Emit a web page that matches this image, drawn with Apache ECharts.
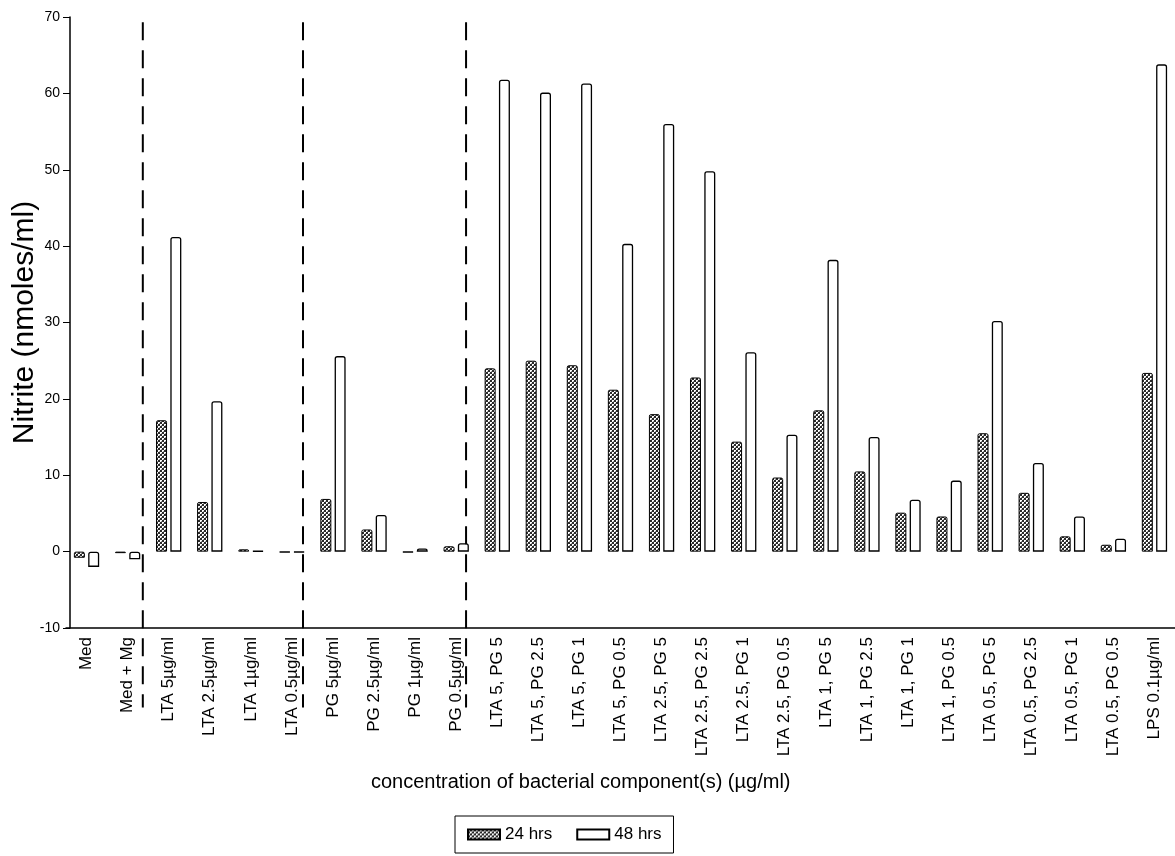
<!DOCTYPE html>
<html>
<head>
<meta charset="utf-8">
<script src="https://cdn.jsdelivr.net/npm/echarts@6/dist/echarts.min.js"></script>
<style>
  html, body { margin: 0; padding: 0; background: #fff; }
  #chart { width: 1175px; height: 856px; }
</style>
</head>
<body>
<div id="chart"></div>
<script>
// Treatments along the x axis
const categories = [
  'Med', 'Med + Mg',
  'LTA 5µg/ml', 'LTA 2.5µg/ml', 'LTA 1µg/ml', 'LTA 0.5µg/ml',
  'PG 5µg/ml', 'PG 2.5µg/ml', 'PG 1µg/ml', 'PG 0.5µg/ml',
  'LTA 5, PG 5', 'LTA 5, PG 2.5', 'LTA 5, PG 1', 'LTA 5, PG 0.5',
  'LTA 2.5, PG 5', 'LTA 2.5, PG 2.5', 'LTA 2.5, PG 1', 'LTA 2.5, PG 0.5',
  'LTA 1, PG 5', 'LTA 1, PG 2.5', 'LTA 1, PG 1', 'LTA 1, PG 0.5',
  'LTA 0.5, PG 5', 'LTA 0.5, PG 2.5', 'LTA 0.5, PG 1', 'LTA 0.5, PG 0.5',
  'LPS 0.1µg/ml'
];

// Nitrite (nmoles/ml) after 24 h and 48 h
const nitrite24 = [-0.8, -0.2, 17.2, 6.5, 0.3, -0.1, 6.9, 2.9, -0.1, 0.7,
  24.0, 25.0, 24.4, 21.2, 18.0, 22.8, 14.4, 9.7, 18.5, 10.5, 5.1, 4.6,
  15.5, 7.7, 2.0, 0.9, 23.4];
const nitrite48 = [-2.0, -1.0, 41.2, 19.7, 0.1, -0.1, 25.6, 4.8, 0.4, 1.1,
  61.8, 60.1, 61.3, 40.3, 56.0, 49.8, 26.1, 15.3, 38.2, 15.0, 6.8, 9.3,
  30.2, 11.6, 4.6, 1.7, 63.8];

// Group separators (fractional category positions)
const dividers = [1.37, 5.27, 9.24];

// Y axis range and step
const yMin = -10, yMax = 70, yStep = 10;

const FONT = '"Liberation Sans", Arial, Helvetica, sans-serif';

// stippled fill for the 24 h bars
function stipple() {
  const c = document.createElement('canvas');
  c.width = 4; c.height = 4;
  const g = c.getContext('2d');
  g.fillStyle = '#2a2a2a';
  g.fillRect(0, 0, 4, 4);
  g.fillStyle = '#ffffff';
  g.fillRect(0, 0, 2, 2);
  g.fillRect(2, 2, 2, 2);
  g.fillStyle = '#9a9a9a';
  g.fillRect(1, 1, 1, 1);
  g.fillRect(3, 3, 1, 1);
  return c;
}

const chart = echarts.init(document.getElementById('chart'), null, { renderer: 'canvas' });

const gridLeft = 66, gridTop = 17, gridHeight = 611, gridWidth = 1109;
const pxPerUnit = gridHeight / (yMax - yMin);
const overlayHeight = 695;
const overlayMin = yMax - overlayHeight / pxPerUnit;

const dividerSeries = dividers.map(x => ({
  type: 'line',
  xAxisIndex: 1,
  yAxisIndex: 1,
  data: [[x, 69.3], [x, -20.4]],
  symbol: 'none',
  silent: true,
  z: 5,
  lineStyle: { color: '#000', width: 2, type: [18, 10] }
}));

const option = {
  animation: false,
  backgroundColor: '#fff',
  title: {
    text: 'concentration of bacterial component(s) (µg/ml)',
    left: 366,
    top: 767,
    textStyle: { fontFamily: FONT, fontSize: 20, fontWeight: 'normal', color: '#000' }
  },
  legend: {
    data: ['24 hrs', '48 hrs'],
    left: 455,
    top: 816,
    orient: 'horizontal',
    padding: [10, 12, 10, 12],
    itemWidth: 32,
    itemHeight: 10,
    itemGap: 24,
    borderColor: '#000',
    borderWidth: 1,
    icon: 'rect',
    textStyle: { fontFamily: FONT, fontSize: 17, color: '#000' }
  },
  grid: [
    { left: gridLeft, top: gridTop, width: gridWidth, height: gridHeight,
      containLabel: false, outerBoundsMode: 'none' },
    { left: gridLeft, top: gridTop, width: gridWidth, height: overlayHeight,
      containLabel: false, outerBoundsMode: 'none' }
  ],
  xAxis: [
    {
      type: 'category',
      gridIndex: 0,
      data: categories,
      axisLine: { onZero: false, lineStyle: { color: '#000', width: 1.5 } },
      axisTick: { show: false },
      axisLabel: {
        interval: 0,
        rotate: 90,
        margin: 9,
        color: '#000',
        fontFamily: FONT,
        fontSize: 17
      },
      splitLine: { show: false }
    },
    {
      type: 'value',
      gridIndex: 1,
      min: -0.5,
      max: categories.length - 0.5,
      show: false
    }
  ],
  yAxis: [
    {
      type: 'value',
      gridIndex: 0,
      min: yMin,
      max: yMax,
      interval: yStep,
      offset: -4,
      name: 'Nitrite (nmoles/ml)',
      nameLocation: 'middle',
      nameGap: 30,
      nameMoveOverlap: false,
      nameTextStyle: { fontFamily: FONT, fontSize: 30, color: '#000' },
      axisLine: { show: true, lineStyle: { color: '#000', width: 1.5 } },
      axisTick: { show: true, length: 7, lineStyle: { color: '#000', width: 1 } },
      axisLabel: { color: '#000', fontFamily: FONT, fontSize: 14, margin: 10 },
      splitLine: { show: false }
    },
    {
      type: 'value',
      gridIndex: 1,
      min: overlayMin,
      max: yMax,
      show: false
    }
  ],
  series: [
    {
      name: '24 hrs',
      type: 'bar',
      data: nitrite24,
      barWidth: 11,
      barGap: '30%',
      itemStyle: {
        color: { image: stipple(), repeat: 'repeat' },
        borderColor: '#000',
        borderWidth: 1,
        borderRadius: [1.5, 1.5, 0, 0]
      }
    },
    {
      name: '48 hrs',
      type: 'bar',
      data: nitrite48,
      barWidth: 11,
      barGap: '30%',
      itemStyle: {
        color: '#fff',
        borderColor: '#000',
        borderWidth: 1.3,
        borderRadius: [2, 2, 0, 0]
      }
    }
  ].concat(dividerSeries)
};

chart.setOption(option);
</script>
</body>
</html>
